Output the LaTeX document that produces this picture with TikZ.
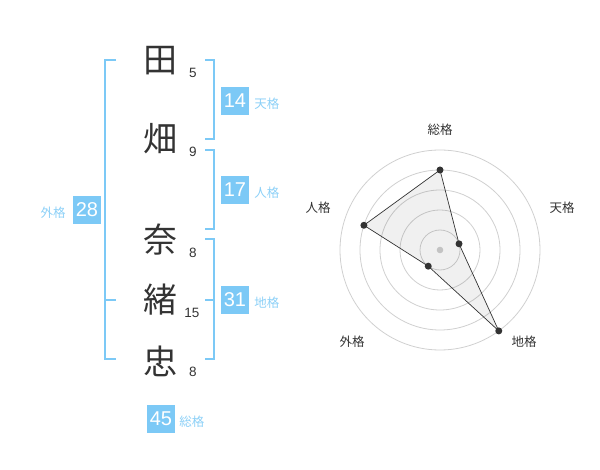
\documentclass[tikz,border=0pt]{standalone}
\usepackage{fontspec}
\setmainfont{Liberation Sans}
\newfontfamily\jpfont{Noto Sans CJK JP}
\usepackage{xcolor}
\usepackage{tikz}
\usetikzlibrary{positioning}

\definecolor{boxblue}{RGB}{124,201,246}
\definecolor{lblblue}{RGB}{140,208,247}
\definecolor{ink}{RGB}{51,51,51}
\definecolor{ring}{RGB}{208,208,208}

\tikzset{
  kanji/.style={text=ink,inner sep=0pt,font=\jpfont\fontsize{34}{34}\selectfont},
  strokes/.style={text=ink,inner sep=0pt,font=\fontsize{13.5}{14}\selectfont},
  kakubox/.style={fill=boxblue,text=white,minimum size=28pt,inner sep=0pt,font=\fontsize{20}{20}\selectfont},
  kakulbl/.style={text=lblblue,inner sep=0pt,font=\jpfont\fontsize{12.5}{13}\selectfont},
  brk/.style={draw=boxblue,line width=2pt},
  axislbl/.style={text=ink,inner sep=0pt,font=\jpfont\fontsize{12.5}{13}\selectfont}
}

\begin{document}
\begin{tikzpicture}[x=1pt,y=-1pt]
\useasboundingbox (0,0) rectangle (600,470);

    % name
    \node[kanji] (c1) at (160,61) {田};
    \node[kanji] (c2) at (160,139) {畑};
    \node[kanji] (c3) at (160,240) {奈};
    \node[kanji] (c4) at (160,300) {緒};
    \node[kanji] (c5) at (160,361) {忠};

    \node[strokes] (s1) at (193,73) {5};
    \node[strokes] (s2) at (193,152) {9};
    \node[strokes] (s3) at (193,253) {8};
    \node[strokes] (s4) at (192,313) {15};
    \node[strokes] (s5) at (193,372) {8};

    % brackets
    \draw[brk] (205,60) -- (214,60) -- (214,139) -- (205,139);
    \draw[brk] (205,150) -- (214,150) -- (214,229) -- (205,229);
    \draw[brk] (205,239) -- (214,239) -- (214,359) -- (205,359);
    \draw[brk] (205,300) -- (214,300);
    \draw[brk] (116,60) -- (105,60) -- (105,359) -- (116,359);
    \draw[brk] (105,300) -- (116,300);

    \node[kakubox] (k14) at (235,101) {14};
    \node[kakulbl,right=5pt of k14,yshift=-2.5pt] (l14) {天格};
    \node[kakubox] (k17) at (235,190) {17};
    \node[kakulbl,right=5pt of k17,yshift=-2.5pt] (l17) {人格};
    \node[kakubox] (k28) at (87,210) {28};
    \node[kakulbl,left=7pt of k28,yshift=-2.5pt] (l28) {外格};
    \node[kakubox] (k31) at (235,300) {31};
    \node[kakulbl,right=5pt of k31,yshift=-2.5pt] (l31) {地格};
    \node[kakubox] (k45) at (161,419) {45};
    \node[kakulbl,right=4pt of k45,yshift=-2.5pt] (l45) {総格};

\begin{scope}[shift={(440,250)}]

    \foreach \r in {20,40,60,80,100}
        \draw[ring,line width=0.8pt] (0,0) circle(\r);
    \fill[ring] (0,0) circle(3.3);

    \coordinate (p1) at (-90:80);
    \coordinate (p2) at (-18:20);
    \coordinate (p3) at (54:100);
    \coordinate (p4) at (126:20);
    \coordinate (p5) at (198:80);

    \fill[black,fill opacity=0.06] (p1) -- (p2) -- (p3) -- (p4) -- (p5) -- cycle;
    \draw[ink,line width=0.7pt] (p1) -- (p2) -- (p3) -- (p4) -- (p5) -- cycle;
    \foreach \p in {p1,p2,p3,p4,p5}
        \fill[ink] (\p) circle(3.5);

    \node[axislbl] (a1) at (0,-120) {総格};
    \node[axislbl] (a2) at (122,-42) {天格};
    \node[axislbl] (a3) at (84,92) {地格};
    \node[axislbl] (a4) at (-88,92) {外格};
    \node[axislbl] (a5) at (-122,-42) {人格};

\end{scope}
\end{tikzpicture}
\end{document}
